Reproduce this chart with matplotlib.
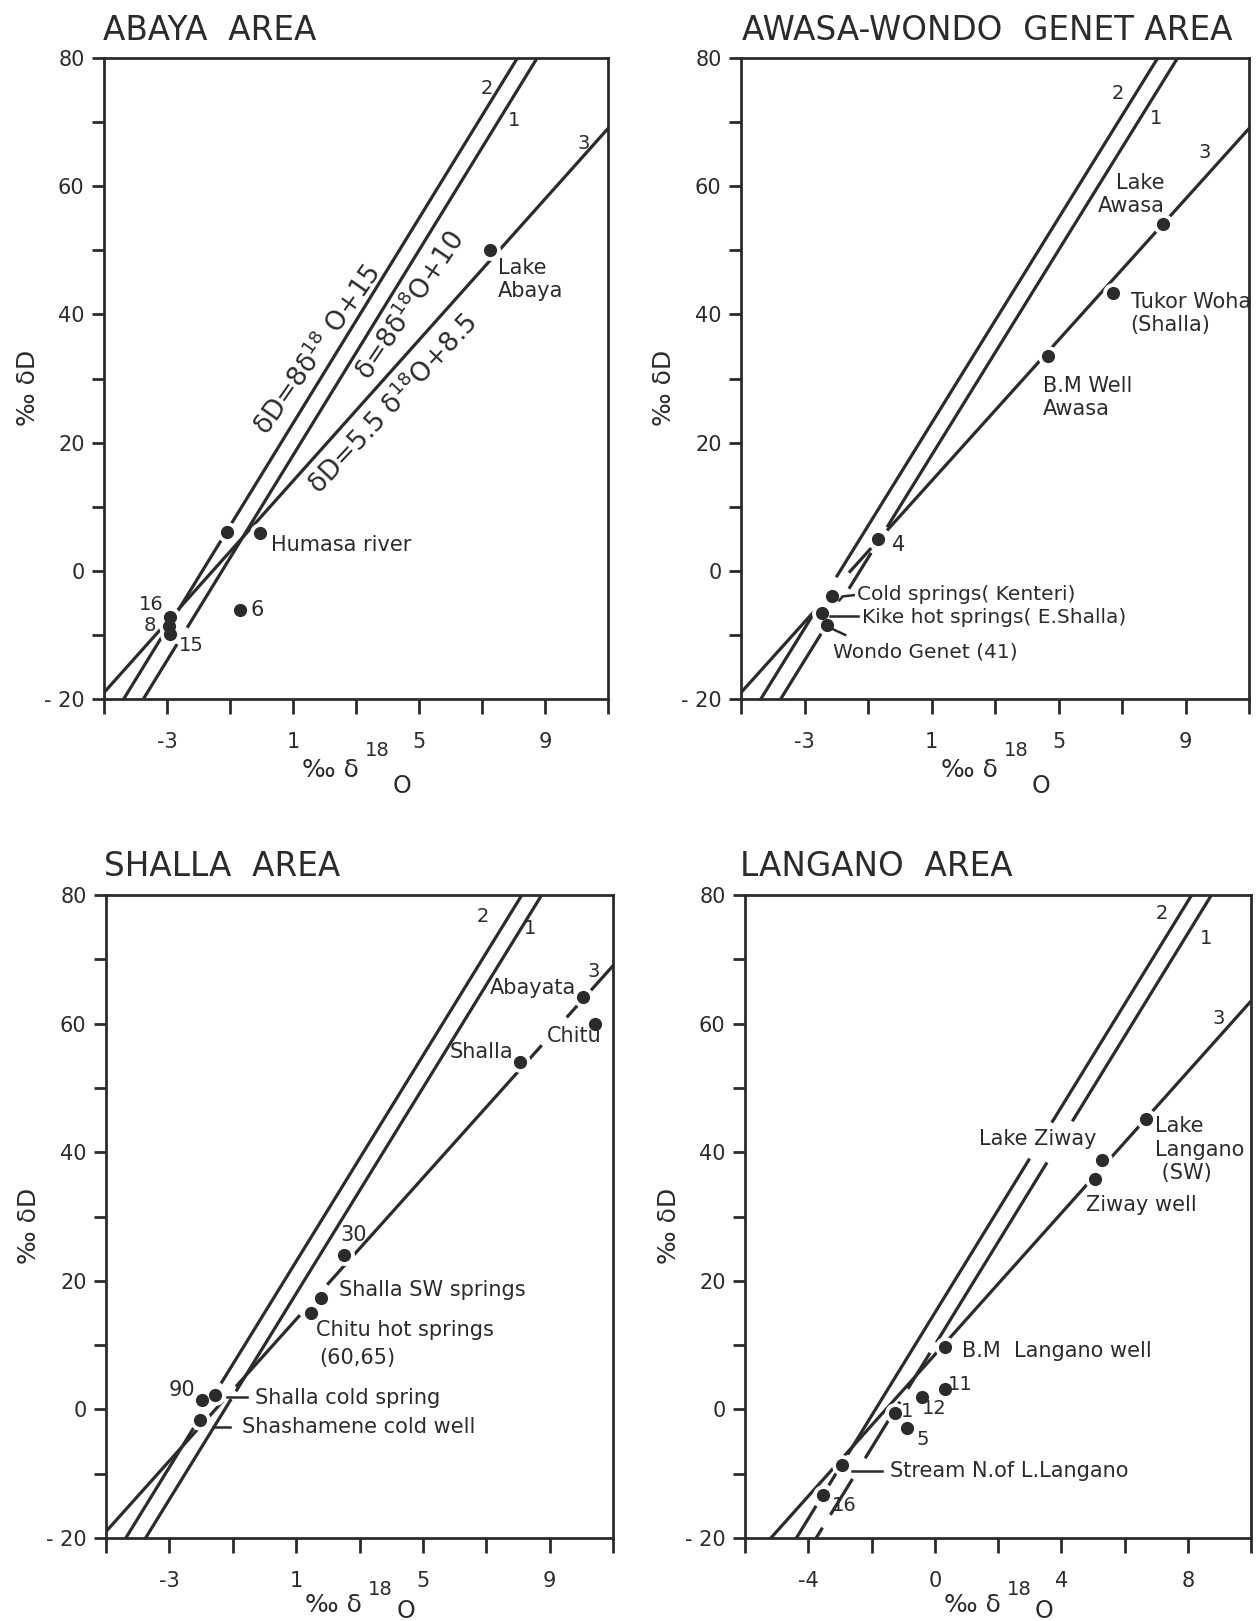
import matplotlib
matplotlib.use("Agg")
import matplotlib.pyplot as plt
import numpy as np

plt.rcParams["font.family"] = ["DejaVu Sans"]
plt.rcParams["mathtext.default"] = "regular"

INK = "#2b2b2b"

# reference lines: dD = slope * d18O + intercept
LINE_TAGS = ["1", "2", "3"]
LINE_SLOPE = [8.0, 8.0, 5.5]
LINE_INTERCEPT = [10.0, 15.0, 8.5]

# samples, per area (d18O, dD in per mil)
ABAYA_O18 = [7.24, -0.05, -1.10, -0.68, -2.90, -2.95, -2.90]
ABAYA_DD = [50.0, 5.9, 6.1, -6.1, -7.2, -8.6, -9.9]

AWASA_O18 = [8.28, 6.73, 4.66, -0.68, -2.13, -2.46, -2.30]
AWASA_DD = [54.1, 43.4, 33.5, 5.0, -3.9, -6.6, -8.4]

SHALLA_O18 = [10.05, 10.44, 8.06, 2.51, 1.78, 1.46, -1.98, -1.55, -2.03]
SHALLA_DD = [64.2, 60.0, 54.1, 24.0, 17.3, 15.0, 1.4, 2.3, -1.7]

LANGANO_O18 = [6.69, 5.28, 5.07, 0.33, 0.33, -0.41, -1.26, -0.89, -2.94, -3.52]
LANGANO_DD = [45.2, 38.8, 35.8, 9.75, 3.1, 2.0, -0.6, -2.9, -8.6, -13.3]

W, H = 1256, 1621
fig = plt.figure(figsize=(W / 100, H / 100), dpi=100)
fig.patch.set_facecolor("white")


def px_axes(left, right, top, bottom):
    return fig.add_axes([left / W, 1 - bottom / H, (right - left) / W, (bottom - top) / H])


def style_axes(ax, xmin, xmax, labelled, drop):
    ax.set_xlim(xmin, xmax)
    ax.set_ylim(-20, 80)
    xt = list(range(xmin, xmax + 1, 2))
    ax.set_xticks(xt)
    ax.set_xticklabels([str(v) if v in labelled else "" for v in xt])
    yt = list(range(-20, 81, 10))
    ax.set_yticks(yt)
    ax.set_yticklabels([("- 20" if v == -20 else str(v)) if v % 20 == 0 else "" for v in yt])
    for s in ax.spines.values():
        s.set_linewidth(2.0)
        s.set_color(INK)
    ax.tick_params(axis="x", direction="out", length=11, width=2, pad=13,
                   labelsize=15, colors=INK)
    ax.tick_params(axis="y", direction="out", length=9, width=2, pad=5,
                   labelsize=15, colors=INK)
    # x label: per mil delta, raised 18, lowered O (baselines in px below the axis)
    h = ax.get_position().height * H
    d_main, d_sup, d_o = drop
    ax.text(0.505, -d_main / h, "‰ δ", transform=ax.transAxes, ha="right",
            va="baseline", fontsize=18, color=INK)
    ax.text(0.517, -d_sup / h, "18", transform=ax.transAxes, ha="left",
            va="baseline", fontsize=14, color=INK)
    ax.text(0.573, -d_o / h, "O", transform=ax.transAxes, ha="left",
            va="baseline", fontsize=17, color=INK)
    ax.text(-0.151, 0.486, "‰ δD", transform=ax.transAxes, ha="center",
            va="center", rotation=90, fontsize=18, color=INK)


def draw_lines(ax, xmin, xmax, gaps):
    for i in range(3):
        cuts = sorted(gaps.get(i, []))
        edges = [xmin - 1]
        for a, b in cuts:
            edges += [a, b]
        edges.append(xmax + 1)
        for a, b in zip(edges[0::2], edges[1::2]):
            xs = np.array([a, b])
            ax.plot(xs, LINE_SLOPE[i] * xs + LINE_INTERCEPT[i], color=INK,
                    lw=2.3, solid_capstyle="butt", zorder=2)


def draw_points(ax, xs, ys):
    ax.plot(xs, ys, "o", ms=15, color="white", mec="none", zorder=3)
    ax.plot(xs, ys, "o", ms=9.5, color=INK, mec="none", zorder=4)


def tags(ax, pos):
    for t, (x, y) in zip(LINE_TAGS, pos):
        ax.text(x, y, t, fontsize=14, color=INK, ha="center", va="center")


def note(ax, x, y, s, ha="left", size=15):
    ax.text(x, y, s, fontsize=size, color=INK, ha=ha, va="center", zorder=5,
            linespacing=1.2)


def leader(ax, xs, ys):
    ax.plot(xs, ys, color=INK, lw=1.8, zorder=5)


def title(x, y, s):
    fig.text(x / W, 1 - y / H, s, fontsize=23.5, color=INK, ha="left", va="center")


def equation(ax, x, y, s, angle):
    ax.text(x, y, s, fontsize=19, color=INK, rotation=angle,
            rotation_mode="anchor", ha="center", va="center")


TOP_DROP = (78, 57, 94)
BOTTOM_DROP = (74, 57, 80)

# ---- Abaya area ----
ax1 = px_axes(104, 608, 58, 699)
style_axes(ax1, -5, 11, [-3, 1, 5, 9], TOP_DROP)
draw_lines(ax1, -5, 11, {0: [(-2.68, -2.36)]})
draw_points(ax1, ABAYA_O18, ABAYA_DD)
tags(ax1, [(8.03, 70.2), (7.14, 75.2), (10.24, 66.7)])
note(ax1, 7.5, 45.4, "Lake\nAbaya")
note(ax1, 0.31, 4.1, "Humasa river")
note(ax1, -0.35, -6.1, "6")
note(ax1, -3.1, -5.2, "16", ha="right", size=14)
note(ax1, -3.35, -8.5, "8", ha="right", size=14)
note(ax1, -2.62, -11.6, "15", size=14)
equation(ax1, 1.8, 34.5, "δD=8δ$^{18}$ O+15", 55)
equation(ax1, 4.74, 41.3, "δ=8δ$^{18}$O+10", 56)
equation(ax1, 4.17, 26.0, "δD=5.5 δ$^{18}$O+8.5", 47)
title(103, 31, "ABAYA  AREA")

# ---- Awasa - Wondo Genet area ----
ax2 = px_axes(741, 1249, 58, 699)
style_axes(ax2, -5, 11, [-3, 1, 5, 9], TOP_DROP)
draw_lines(ax2, -5, 11, {0: [(-2.45, -1.6), (-0.9, -0.4)],
                         1: [(-2.6, -2.0)],
                         2: [(-2.64, -1.6), (-0.9, -0.4)]})
draw_points(ax2, AWASA_O18, AWASA_DD)
tags(ax2, [(8.07, 70.6), (6.86, 74.4), (9.61, 65.3)])
note(ax2, 8.35, 58.7, "Lake\nAwasa", ha="right")
note(ax2, 7.27, 40.2, "Tukor Woha\n(Shalla)")
note(ax2, 4.5, 27.0, "B.M Well\nAwasa")
note(ax2, -0.24, 4.1, "4")
leader(ax2, [-1.9, -1.8, -1.45], [-4.6, -4.0, -3.8])
note(ax2, -1.34, -3.7, "Cold springs( Kenteri)", size=14.5)
leader(ax2, [-2.2, -1.3], [-7.0, -7.0])
note(ax2, -1.2, -7.3, "Kike hot springs( E.Shalla)", size=14.5)
leader(ax2, [-2.15, -1.72], [-9.0, -10.0])
note(ax2, -2.09, -12.6, "Wondo Genet (41)", size=14.5)
title(742, 31, "AWASA-WONDO  GENET AREA")

# ---- Shalla area ----
ax3 = px_axes(106, 613, 895, 1538)
style_axes(ax3, -5, 11, [-3, 1, 5, 9], BOTTOM_DROP)
draw_lines(ax3, -5, 11, {0: [(-1.05, -0.9)],
                         1: [(-2.2, -1.37)],
                         2: [(-1.3, -0.9), (1.12, 1.98), (8.75, 9.54)]})
draw_points(ax3, SHALLA_O18, SHALLA_DD)
tags(ax3, [(8.38, 74.8), (6.9, 76.6), (10.4, 68.1)])
note(ax3, 9.82, 65.5, "Abayata", ha="right")
note(ax3, 8.91, 58.0, "Chitu")
note(ax3, 7.85, 55.6, "Shalla", ha="right")
note(ax3, 2.41, 27.1, "30")
note(ax3, 2.36, 18.6, "Shalla SW springs")
note(ax3, 1.62, 12.35, "Chitu hot springs")
note(ax3, 1.73, 7.95, "(60,65)")
note(ax3, -2.19, 3.0, "90", ha="right")
leader(ax3, [-1.19, -0.56], [2.0, 2.0])
note(ax3, -0.29, 1.8, "Shalla cold spring")
leader(ax3, [-1.61, -1.08], [-2.7, -2.7])
note(ax3, -0.71, -2.7, "Shashamene cold well")
title(104, 866, "SHALLA  AREA")

# ---- Langano area ----
ax4 = px_axes(745, 1251, 895, 1538)
style_axes(ax4, -6, 10, [-4, 0, 4, 8], BOTTOM_DROP)
draw_lines(ax4, -6, 10, {0: [(3.55, 4.35), (-0.15, 0.05), (-1.1, -0.85),
                             (-2.6, -2.2), (-3.55, -3.3)],
                         1: [(3.0, 3.7), (-3.1, -2.75), (-3.75, -3.35)],
                         2: []})
draw_points(ax4, LANGANO_O18, LANGANO_DD)
tags(ax4, [(8.58, 73.2), (7.19, 77.2), (8.97, 60.8)])
note(ax4, 3.27, 42.0, "Lake Ziway", ha="center")
note(ax4, 6.96, 40.4, "Lake\nLangano\n (SW)")
note(ax4, 4.79, 31.8, "Ziway well")
note(ax4, 0.85, 9.1, "B.M  Langano well")
note(ax4, 0.42, 3.8, "11", size=14)
note(ax4, -0.4, 0.1, "12", size=14)
note(ax4, -1.08, -0.4, "1", size=14)
note(ax4, -0.57, -4.7, "5", size=14)
leader(ax4, [-2.63, -1.68], [-9.6, -9.6])
note(ax4, -1.41, -9.6, "Stream N.of L.Langano")
note(ax4, -3.25, -14.9, "16", size=14)
title(740, 866, "LANGANO  AREA")

fig.savefig("out.png", dpi=100, facecolor="white")
